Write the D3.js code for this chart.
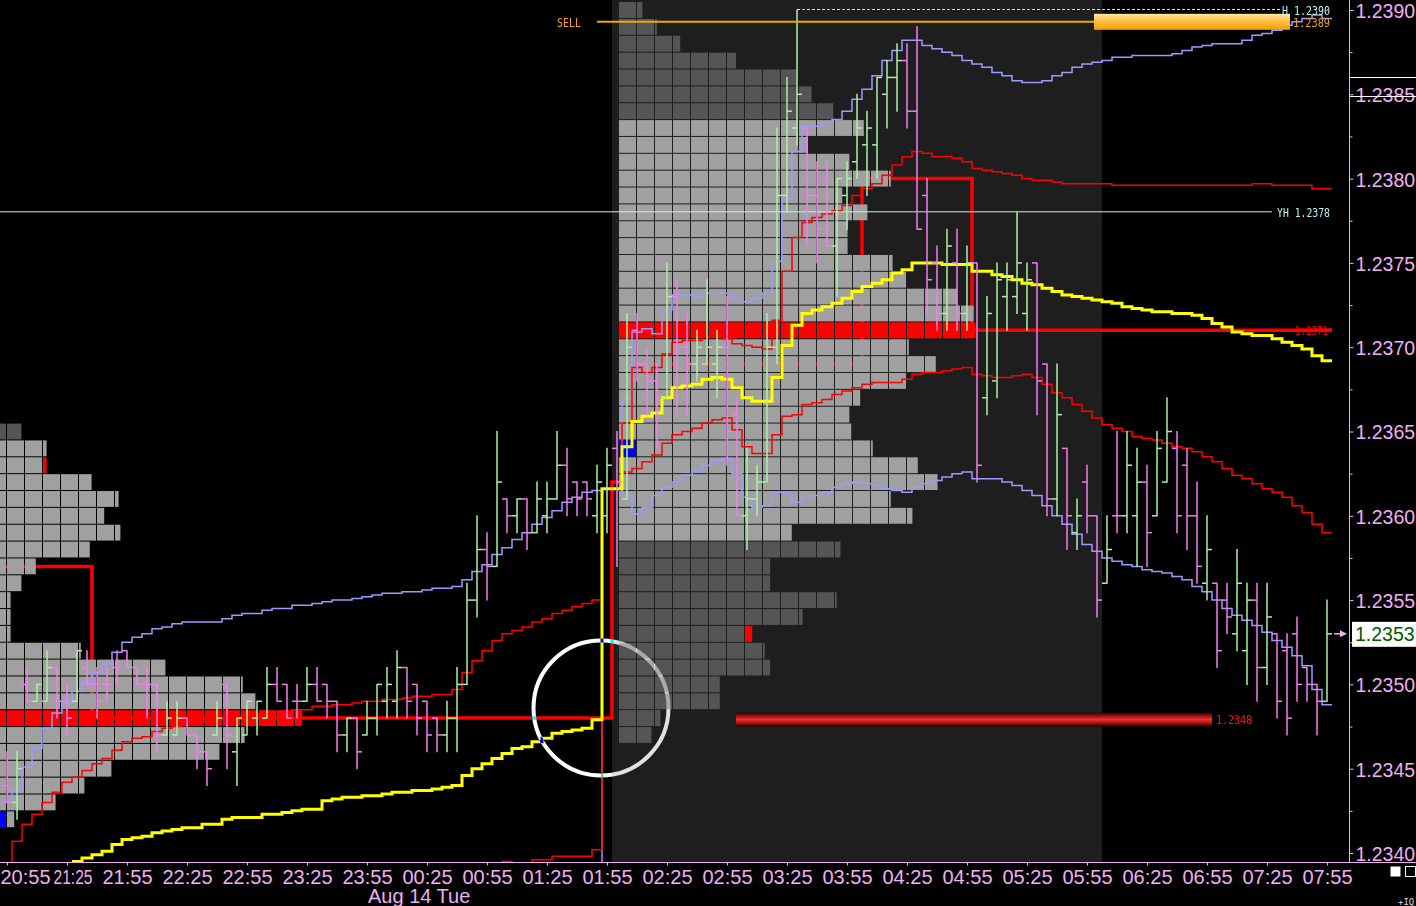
<!DOCTYPE html>
<html><head><meta charset="utf-8">
<script src="https://cdn.jsdelivr.net/npm/d3@7"></script>
<style>html,body{margin:0;padding:0;background:#000}svg{display:block}</style>
</head><body>
<svg id="c" width="1416" height="906"></svg>
<script>
// ---------------- DATA ----------------
const firstBar = "2012-08-13T20:55";
const barOpen = [
1.2344,1.2343,1.2350,1.2349,1.2349,1.2351,1.2349,1.2349,1.2351,1.2350,
1.2350,1.2351,1.2352,1.2351,1.2350,1.2350,1.2347,1.2347,1.2348,1.2347,
1.2346,1.2347,1.2350,1.2346,1.2347,1.2348,1.2348,1.2350,1.2350,1.2349,
1.2349,1.2350,1.2350,1.2349,1.2347,1.2348,1.2347,1.2348,1.2349,1.2349,
1.2351,1.2350,1.2349,1.2348,1.2347,1.2348,1.2350,1.2355,1.2358,1.2357,
1.2361,1.2360,1.2361,1.2359,1.2360,1.2361,1.2363,1.2362,1.2362,1.2360,
1.2360,1.2364,1.2361,1.2371,1.2369,1.2368,1.2367,1.2373,1.2370,1.2369,
1.2369,1.2369,1.2370,1.2366,1.2360,1.2361,1.2362,1.2370,1.2379,1.2383,
1.2383,1.2379,1.2380,1.2376,1.2379,1.2381,1.2382,1.2382,1.2385,1.2386,
1.2387,1.2384,1.2379,1.2375,1.2372,1.2375,1.2372,1.2375,1.2367,1.2368,
1.2373,1.2373,1.2372,1.2375,1.2369,1.2361,1.2364,1.2359,1.2362,1.2360,
1.2356,1.2360,1.2360,1.2360,1.2362,1.2360,1.2362,1.2364,1.2363,1.2360,
1.2356,1.2356,1.2355,1.2353,1.2352,1.2355,1.2351,1.2353,1.2352,1.2353,
1.2351,1.2350,1.2349];
const barHigh = [
1.2346,1.2346,1.2351,1.2350,1.2352,1.2351,1.2350,1.2352,1.2352,1.2351,
1.2351,1.2352,1.2352,1.2351,1.2351,1.2350,1.2349,1.2349,1.2348,1.2347,
1.2346,1.2349,1.2350,1.2348,1.2349,1.2349,1.2351,1.2351,1.2350,1.2350,
1.2351,1.2351,1.2350,1.2349,1.2348,1.2348,1.2349,1.2350,1.2351,1.2352,
1.2351,1.2350,1.2349,1.2348,1.2349,1.2351,1.2356,1.2360,1.2359,1.2365,
1.2361,1.2361,1.2361,1.2362,1.2362,1.2365,1.2364,1.2362,1.2362,1.2363,
1.2364,1.2365,1.2372,1.2372,1.2370,1.2369,1.2375,1.2374,1.2372,1.2371,
1.2374,1.2371,1.2373,1.2367,1.2364,1.2363,1.2372,1.2383,1.2386,1.2390,
1.2383,1.2381,1.2381,1.2380,1.2381,1.2385,1.2384,1.2386,1.2387,1.2388,
1.2388,1.2389,1.2380,1.2376,1.2377,1.2377,1.2376,1.2375,1.2373,1.2375,
1.2375,1.2378,1.2375,1.2375,1.2369,1.2369,1.2364,1.2361,1.2363,1.2360,
1.2360,1.2365,1.2365,1.2364,1.2363,1.2365,1.2367,1.2365,1.2364,1.2362,
1.2360,1.2356,1.2356,1.2358,1.2356,1.2356,1.2356,1.2353,1.2353,1.2354,
1.2351,1.2350,1.2355];
const barLow = [
1.2343,1.2342,1.2349,1.2349,1.2349,1.2348,1.2347,1.2349,1.2350,1.2348,
1.2349,1.2350,1.2351,1.2350,1.2348,1.2346,1.2347,1.2347,1.2347,1.2345,
1.2344,1.2347,1.2345,1.2344,1.2347,1.2347,1.2348,1.2349,1.2348,1.2348,
1.2349,1.2349,1.2348,1.2346,1.2346,1.2345,1.2347,1.2347,1.2348,1.2348,
1.2348,1.2347,1.2346,1.2346,1.2346,1.2346,1.2350,1.2354,1.2355,1.2357,
1.2359,1.2359,1.2358,1.2359,1.2359,1.2361,1.2360,1.2360,1.2360,1.2359,
1.2359,1.2357,1.2361,1.2368,1.2366,1.2364,1.2367,1.2366,1.2366,1.2368,
1.2369,1.2367,1.2363,1.2360,1.2358,1.2360,1.2362,1.2369,1.2378,1.2382,
1.2376,1.2375,1.2376,1.2373,1.2377,1.2380,1.2379,1.2380,1.2383,1.2384,
1.2383,1.2377,1.2372,1.2371,1.2371,1.2371,1.2371,1.2362,1.2366,1.2367,
1.2371,1.2372,1.2371,1.2366,1.2360,1.2360,1.2358,1.2358,1.2359,1.2354,
1.2356,1.2359,1.2359,1.2357,1.2357,1.2360,1.2362,1.2359,1.2358,1.2356,
1.2355,1.2351,1.2353,1.2352,1.2350,1.2349,1.2350,1.2348,1.2347,1.2349,
1.2349,1.2347,1.2349];
const barClose = [
1.2343,1.2345,1.2349,1.2350,1.2351,1.2349,1.2348,1.2352,1.2350,1.2349,
1.2350,1.2351,1.2351,1.2350,1.2350,1.2347,1.2348,1.2348,1.2347,1.2346,
1.2345,1.2348,1.2347,1.2348,1.2349,1.2349,1.2350,1.2349,1.2348,1.2349,
1.2350,1.2349,1.2349,1.2347,1.2348,1.2346,1.2348,1.2350,1.2350,1.2351,
1.2349,1.2348,1.2347,1.2347,1.2348,1.2350,1.2355,1.2358,1.2357,1.2362,
1.2360,1.2361,1.2359,1.2361,1.2361,1.2363,1.2361,1.2361,1.2361,1.2362,
1.2363,1.2362,1.2370,1.2369,1.2368,1.2367,1.2373,1.2370,1.2369,1.2370,
1.2370,1.2370,1.2365,1.2360,1.2361,1.2362,1.2370,1.2379,1.2384,1.2385,
1.2379,1.2377,1.2376,1.2380,1.2380,1.2383,1.2383,1.2386,1.2386,1.2387,
1.2384,1.2377,1.2374,1.2372,1.2376,1.2372,1.2375,1.2363,1.2372,1.2374,
1.2374,1.2375,1.2374,1.2368,1.2361,1.2366,1.2360,1.2360,1.2360,1.2355,
1.2358,1.2360,1.2363,1.2362,1.2359,1.2364,1.2365,1.2360,1.2360,1.2357,
1.2358,1.2352,1.2354,1.2356,1.2355,1.2351,1.2354,1.2349,1.2348,1.2350,
1.2350,1.2349,1.2353];

// session VWAP and its bands, one value per bar (null = not drawn)
const N7 = [null,null,null,null,null,null,null];
const vwapLine = [...N7,1.23395,1.23397,1.23399,
1.23401,1.23405,1.23408,1.23409,1.23410,1.23412,1.23413,1.23414,1.23415,1.23415,
1.23417,1.23417,1.23420,1.23421,1.23421,1.23421,1.23423,1.23423,1.23424,1.23425,
1.23426,1.23426,1.23431,1.23432,1.23433,1.23433,1.23434,1.23434,1.23435,1.23436,
1.23436,1.23437,1.23437,1.23438,1.23439,1.23440,1.23446,1.23450,1.23453,1.23456,
1.23459,1.23462,1.23463,1.23466,1.23468,1.23471,1.23472,1.23473,1.23474,1.23479,
1.23616,1.23616,1.23641,1.23656,1.23659,1.23661,1.23670,1.23676,1.23677,1.23678,
1.23681,1.23682,1.23681,1.23676,1.23670,1.23668,1.23668,1.23682,1.23701,1.23713,
1.23720,1.23722,1.23724,1.23726,1.23729,1.23733,1.23736,1.23738,1.23740,1.23744,
1.23746,1.23750,1.23750,1.23750,1.23749,1.23749,1.23749,1.23745,1.23745,1.23743,
1.23742,1.23740,1.23738,1.23737,1.23735,1.23733,1.23731,1.23730,1.23729,1.23728,
1.23727,1.23726,1.23724,1.23723,1.23722,1.23721,1.23721,1.23720,1.23720,1.23719,
1.23717,1.23714,1.23712,1.23709,1.23708,1.23707,1.23707,1.23705,1.23703,1.23701,
1.23699,1.23695,1.23692];
const upper1Line = [
1.23390,1.23407,1.23417,1.23423,1.23430,1.23436,1.23442,1.23445,1.23449,1.23453,
1.23456,1.23461,1.23466,1.23468,1.23469,1.23472,1.23474,1.23475,1.23477,1.23477,
1.23478,1.23479,1.23480,1.23481,1.23481,1.23482,1.23483,1.23484,1.23484,1.23485,
1.23485,1.23487,1.23487,1.23488,1.23488,1.23489,1.23490,1.23490,1.23491,1.23491,
1.23492,1.23493,1.23493,1.23494,1.23494,1.23497,1.23507,1.23514,1.23520,1.23526,
1.23530,1.23532,1.23534,1.23537,1.23539,1.23542,1.23544,1.23546,1.23548,1.23550,
1.23616,1.23616,1.23655,1.23688,1.23685,1.23688,1.23696,1.23703,1.23704,1.23704,
1.23706,1.23706,1.23705,1.23702,1.23701,1.23700,1.23699,1.23716,1.23745,1.23765,
1.23774,1.23777,1.23779,1.23781,1.23784,1.23790,1.23794,1.23797,1.23802,1.23808,
1.23813,1.23816,1.23815,1.23813,1.23813,1.23812,1.23810,1.23806,1.23805,1.23804,
1.23803,1.23802,1.23800,1.23799,1.23799,1.23798,1.23797,1.23797,1.23797,1.23797,
1.23797,1.23796,1.23796,1.23796,1.23796,1.23796,1.23796,1.23796,1.23796,1.23796,
1.23796,1.23796,1.23796,1.23796,1.23796,1.23797,1.23797,1.23796,1.23796,1.23796,
1.23796,1.23794,1.23794];
const upper2Line = [
1.23430,1.23437,1.23451,1.23462,1.23474,1.23483,1.23489,1.23496,1.23501,1.23507,
1.23512,1.23519,1.23525,1.23528,1.23530,1.23533,1.23534,1.23536,1.23537,1.23537,
1.23537,1.23537,1.23539,1.23541,1.23542,1.23542,1.23544,1.23545,1.23545,1.23547,
1.23547,1.23548,1.23549,1.23550,1.23550,1.23551,1.23552,1.23553,1.23554,1.23554,
1.23555,1.23555,1.23556,1.23557,1.23557,1.23558,1.23562,1.23567,1.23571,1.23577,
1.23581,1.23586,1.23590,1.23595,1.23599,1.23603,1.23608,1.23611,1.23614,1.23615,
1.23616,1.23616,1.23669,1.23709,1.23711,1.23708,1.23722,1.23731,1.23731,1.23730,
1.23732,1.23732,1.23732,1.23729,1.23727,1.23729,1.23732,1.23751,1.23788,1.23816,
1.23831,1.23831,1.23833,1.23835,1.23840,1.23847,1.23853,1.23861,1.23870,1.23876,
1.23882,1.23882,1.23879,1.23877,1.23875,1.23873,1.23870,1.23868,1.23866,1.23863,
1.23861,1.23858,1.23857,1.23857,1.23858,1.23861,1.23863,1.23866,1.23868,1.23869,
1.23870,1.23872,1.23872,1.23873,1.23873,1.23873,1.23873,1.23874,1.23876,1.23878,
1.23879,1.23880,1.23880,1.23880,1.23882,1.23885,1.23886,1.23888,1.23891,1.23893,
1.23895,1.23897,1.23895];
const lower1Line = [...Array(48).fill(null),1.23385,1.23390,
1.23395,1.23392,1.23393,1.23396,1.23396,1.23398,1.23398,1.23398,1.23398,1.23402,
1.23616,1.23616,1.23626,1.23628,1.23632,1.23636,1.23643,1.23648,1.23650,1.23652,
1.23655,1.23657,1.23658,1.23651,1.23641,1.23637,1.23637,1.23648,1.23659,1.23660,
1.23666,1.23667,1.23669,1.23672,1.23674,1.23676,1.23678,1.23679,1.23679,1.23679,
1.23681,1.23684,1.23685,1.23685,1.23686,1.23687,1.23688,1.23684,1.23683,1.23682,
1.23682,1.23683,1.23684,1.23682,1.23678,1.23673,1.23670,1.23666,1.23662,1.23658,
1.23654,1.23652,1.23650,1.23647,1.23646,1.23645,1.23643,1.23641,1.23640,1.23638,
1.23635,1.23632,1.23628,1.23624,1.23622,1.23619,1.23616,1.23614,1.23611,1.23606,
1.23602,1.23595,1.23590];
const lower2Line = [...Array(58).fill(null),1.23300,1.23300,
1.23616,1.23616,1.23612,1.23601,1.23605,1.23612,1.23617,1.23620,1.23624,1.23627,
1.23630,1.23633,1.23634,1.23625,1.23611,1.23605,1.23606,1.23614,1.23614,1.23608,
1.23611,1.23612,1.23614,1.23617,1.23619,1.23620,1.23619,1.23618,1.23616,1.23615,
1.23614,1.23617,1.23619,1.23621,1.23623,1.23625,1.23626,1.23622,1.23622,1.23622,
1.23620,1.23618,1.23615,1.23612,1.23606,1.23600,1.23595,1.23589,1.23583,1.23579,
1.23575,1.23573,1.23571,1.23570,1.23568,1.23567,1.23566,1.23564,1.23562,1.23558,
1.23555,1.23550,1.23545,1.23541,1.23538,1.23535,1.23531,1.23526,1.23522,1.23517,
1.23511,1.23497,1.23488];

// developing point of control (step changes)
const devPocTimes  = ["20:55","21:40","02:00","02:05","02:10","04:05","05:00"];
const devPocValues = [1.2357,1.2348,1.2362,1.2366,1.2369,1.2380,1.2371];

// market profiles (price rows and TPO counts)
const prevProfilePrices = d3.range(24).map(k => +(1.2365 - k*0.0001).toFixed(4));
const prevProfileCounts = [1.8,3.2,3.2,5.7,7.2,6.4,7.3,5.6,2.6,1.8,1.2,1.2,1.2,5.1,9.8,14.1,14.8,17.4,14.2,12.8,6.8,5.3,3.7,1.4];
const prevProfileInfo = {poc:1.2348, vaHigh:1.2364, vaLow:1.2342, open:1.2342, close:1.2363};
const currProfilePrices = d3.range(44).map(k => +(1.2390 - k*0.0001).toFixed(4));
const currProfileCounts = [1.3,2.1,3.4,6.5,9.9,10.7,11.9,13.6,10.5,12.8,15.1,12.4,13.8,12.7,12.7,15.2,16.0,18.8,19.7,19.8,16.1,17.6,16.0,13.4,12.8,12.9,14.1,16.6,17.7,15.1,16.3,9.6,12.3,8.4,8.4,12.1,10.2,7.4,8.1,8.4,5.6,5.6,2.3,1.8];
const currProfileInfo = {poc:1.2371, vaHigh:1.2383, vaLow:1.2359, open:1.2364, close:1.2353};

const sessionStart = "02:00", sessionEnd = "06:00";
const levels = {sell:1.23893, sellLabel:"1.2389", high:1.2390, highLabel:"H 1.2390",
  yHigh:1.2378, yHighLabel:"YH 1.2378", pocLabel:"1.2371", nakedPoc:1.2348, nakedPocLabel:"1.2348",
  last:1.2353};
const xTickLabels = ["20:55","21:25","21:55","22:25","22:55","23:25","23:55","00:25","00:55","01:25","01:55",
  "02:25","02:55","03:25","03:55","04:25","04:55","05:25","05:55","06:25","06:55","07:25","07:55"];
const yTickValues = [1.2340,1.2345,1.2350,1.2355,1.2360,1.2365,1.2370,1.2375,1.2380,1.2385,1.2390];
const dateLabel = "Aug 14 Tue";

// ---------------- SCALES ----------------
const t0 = new Date(firstBar);
const nBars = barOpen.length;
const barTime = i => d3.timeMinute.offset(t0, 5*i);
function hm(s){
  const [h,m] = s.split(":").map(Number);
  const d = new Date(t0); d.setHours(h,m,0,0);
  if (d < t0) d.setDate(d.getDate()+1);
  return d;
}
const x = d3.scaleTime().domain([t0, barTime(nBars-1)]).range([7,1327]);
const y = d3.scaleLinear().domain([1.2340,1.2390]).range([853,10]);
const PIP = 0.0001, HB = 5, CELL = 18;
const PLOT_R = 1349, PLOT_B = 862;
const pink = "#f2aef2", green = "#a8f2a0", mag = "#f47cf0";
const AXFONT = "'Liberation Sans',Arial";

const svg = d3.select("#c");
svg.append("rect").attr("width",1416).attr("height",906).attr("fill","#000");
const defs = svg.append("defs");
defs.append("clipPath").attr("id","plot").append("rect").attr("width",PLOT_R).attr("height",PLOT_B);
const g = svg.append("g").attr("clip-path","url(#plot)");

// session background
g.append("rect").attr("x", x(hm(sessionStart))-HB).attr("y",0)
  .attr("width", x(hm(sessionEnd))-x(hm(sessionStart))+2*HB).attr("height",PLOT_B).attr("fill","#1e1e1e");

// developing POC (behind profile)
{
  const pts=[];
  for(let i=0;i<nBars;i++){
    const t=barTime(i);
    let v=null;
    devPocTimes.forEach((s,k)=>{ if (hm(s)<=t) v=devPocValues[k]; });
    pts.push([x(t)-HB,y(v)],[x(t)+HB,y(v)]);
  }
  g.append("path").attr("d",d3.line()(pts)).attr("fill","none").attr("stroke","#ff0000").attr("stroke-width",3.5);
}

// profiles
function drawProfile(prices, counts, x0, info){
  prices.forEach((p,j)=>{
    const c=counts[j];
    const yt=y(p+PIP/2)+0.5, h=y(p-PIP/2)-y(p+PIP/2)-1;
    const n=Math.ceil(c-1e-9);
    for(let k=0;k<n;k++){
      const frac=Math.min(1,c-k);
      const w = frac>=1 ? CELL-1 : frac*CELL;
      let col = Math.abs(p-info.poc)<1e-7 ? "#ff0000" :
        (p<=info.vaHigh+1e-7 && p>=info.vaLow-1e-7) ? "#a0a0a0" : "#555555";
      if (Math.abs(p-info.open)<1e-7 && k===0) col="#0000ff";
      if (Math.abs(p-info.close)<1e-7 && k===n-1) col="#ff0000";
      g.append("rect").attr("x",x0+k*CELL).attr("y",yt).attr("width",w).attr("height",h).attr("fill",col);
    }
  });
}
drawProfile(prevProfilePrices, prevProfileCounts, x(t0)-CELL, prevProfileInfo);
drawProfile(currProfilePrices, currProfileCounts, x(hm(sessionStart))+2, currProfileInfo);

// VWAP & bands as step lines
function stepLine(vals, color, width){
  const segs=[]; let cur=[];
  vals.forEach((v,i)=>{
    if (v==null){ if(cur.length) segs.push(cur); cur=[]; return; }
    const xc=x(barTime(i)); cur.push([xc-HB,y(v)],[xc+HB,y(v)]);
  });
  if(cur.length) segs.push(cur);
  segs.forEach(s=>g.append("path").attr("d",d3.line()(s)).attr("fill","none")
    .attr("stroke",color).attr("stroke-width",width));
}
stepLine(lower2Line,"#9a9aff",1.5);
stepLine(upper2Line,"#9a9aff",1.5);
stepLine(lower1Line,"#ff0000",1.5);
stepLine(upper1Line,"#ff0000",1.5);
stepLine(vwapLine,"#ffff00",3);

// yesterday high line
g.append("line").attr("x1",0).attr("x2",1272).attr("y1",y(levels.yHigh)-0.5).attr("y2",y(levels.yHigh)-0.5)
  .attr("stroke","#c8f0f0").attr("stroke-width",1);

// OHLC bars
for(let i=0;i<nBars;i++){
  const xc=x(barTime(i));
  const col = barClose[i]>barOpen[i] ? green : mag;
  const bg=g.append("g").attr("stroke",col).attr("stroke-width",1.5);
  bg.append("line").attr("x1",xc).attr("x2",xc).attr("y1",y(barHigh[i])-0.5).attr("y2",y(barLow[i])+0.5);
  bg.append("line").attr("x1",xc-5).attr("x2",xc).attr("y1",y(barOpen[i])).attr("y2",y(barOpen[i]));
  bg.append("line").attr("x1",xc).attr("x2",xc+5).attr("y1",y(barClose[i])).attr("y2",y(barClose[i]));
}

// naked POC tube
{
  const gr=defs.append("linearGradient").attr("id","tube").attr("x1",0).attr("x2",0).attr("y1",0).attr("y2",1);
  [[0,"#2a0000"],[0.5,"#ff2a2a"],[1,"#2a0000"]].forEach(s=>gr.append("stop").attr("offset",s[0]).attr("stop-color",s[1]));
  const yc=y(levels.nakedPoc)+1.5;
  g.append("rect").attr("x",736).attr("y",yc-7).attr("width",476).attr("height",14).attr("fill","url(#tube)");
}

// sell order line and box
{
  const ys=y(levels.sell);
  g.append("line").attr("x1",597).attr("x2",1290).attr("y1",ys).attr("y2",ys).attr("stroke","#f0a800").attr("stroke-width",2);
  const gr=defs.append("linearGradient").attr("id","sellbox").attr("x1",0).attr("x2",0).attr("y1",0).attr("y2",1);
  [[0,"#ffe8a8"],[0.45,"#ffc040"],[1,"#f0a000"]].forEach(s=>gr.append("stop").attr("offset",s[0]).attr("stop-color",s[1]));
  g.append("rect").attr("x",1094).attr("y",ys-8).attr("width",196).attr("height",16).attr("fill","url(#sellbox)");
  const yh=y(levels.high)-0.5;
  g.append("line").attr("x1",797).attr("x2",1280).attr("y1",yh).attr("y2",yh).attr("stroke","#b8f4f4")
    .attr("stroke-width",1).attr("stroke-dasharray","3,2");
}

function smallText(txt, xs, yc, w, col){
  g.append("text").attr("x",xs).attr("y",yc).attr("dy","0.36em").attr("fill",col)
    .attr("textLength",w).attr("lengthAdjust","spacingAndGlyphs")
    .style("font-family","'DejaVu Sans Mono', monospace").style("font-size","13px").text(txt);
}
smallText("SELL",557,y(levels.sell)+0.5,24,"#f0a800");
smallText(levels.sellLabel,1293,y(levels.sell)+1,37,"#f0a800");
smallText(levels.highLabel,1282,y(levels.high),48,"#b8f4f4");
smallText(levels.yHighLabel,1277,y(levels.yHigh)-0.5,53,"#b8f4f4");
smallText(levels.nakedPocLabel,1216,y(levels.nakedPoc)+1.5,36,"#ff1010");
smallText(levels.pocLabel,1295,y(currProfileInfo.poc),33,"#ff0000");
g.append("line").attr("x1",1300).attr("x2",1332).attr("y1",y(currProfileInfo.poc)).attr("y2",y(currProfileInfo.poc))
  .attr("stroke","#ff0000").attr("stroke-width",3.5);

// circle marker (difference blend)
g.append("circle").attr("cx",x(hm("01:52"))).attr("cy",y(1.23486)).attr("r",67.5)
  .attr("fill","none").attr("stroke","#fff").attr("stroke-width",4).style("mix-blend-mode","difference");

// ---------------- AXES ----------------
svg.append("line").attr("x1",0).attr("x2",1416).attr("y1",PLOT_B+0.5).attr("y2",PLOT_B+0.5).attr("stroke",pink);
svg.append("line").attr("x1",PLOT_R+0.5).attr("x2",PLOT_R+0.5).attr("y1",0).attr("y2",PLOT_B).attr("stroke",pink);

const ya=svg.append("g").attr("transform",`translate(${PLOT_R+0.5},0)`)
  .call(d3.axisRight(y).tickValues(yTickValues).tickSize(4).tickPadding(2).tickFormat(d3.format(".4f")));
ya.select(".domain").remove();
ya.selectAll("line").attr("stroke",pink);
ya.selectAll("text").attr("fill",pink).attr("dy","0.38em").style("font-family",AXFONT).style("font-size","19.5px");
const minor = yTickValues.slice(0,-1).map(v=>v+0.00025);
const ym=svg.append("g").attr("transform",`translate(${PLOT_R+0.5},0)`)
  .call(d3.axisRight(y).tickValues(minor).tickSize(3).tickFormat(""));
ym.select(".domain").remove(); ym.selectAll("line").attr("stroke",pink);

const xa=svg.append("g").attr("transform",`translate(0,${PLOT_B+0.5})`)
  .call(d3.axisBottom(x).tickValues(xTickLabels.map(hm)).tickSize(3).tickPadding(4).tickFormat(d3.timeFormat("%H:%M")));
xa.select(".domain").remove();
xa.selectAll("line").attr("stroke",pink);
xa.selectAll("text").attr("fill",pink).style("font-family",AXFONT).style("font-size","20px");
// first two labels sit tight against each other at the left edge, as in the source
xa.selectAll(".tick").filter((d,i)=>i===0).select("text").attr("text-anchor","start").attr("x",-7);
xa.selectAll(".tick").filter((d,i)=>i===1).select("text").attr("text-anchor","start").attr("x",-14)
  .attr("textLength",39).attr("lengthAdjust","spacingAndGlyphs");
svg.append("text").attr("x",368).attr("y",903).attr("fill",pink)
  .style("font-family",AXFONT).style("font-size","20px").text(dateLabel);

// top-right white lines
svg.append("line").attr("x1",1350).attr("x2",1416).attr("y1",77.5).attr("y2",77.5).attr("stroke","#fff");
svg.append("line").attr("x1",1350).attr("x2",1416).attr("y1",96.5).attr("y2",96.5).attr("stroke","#fff");

// last price marker
{
  const yl=y(levels.last);
  svg.append("rect").attr("x",1352).attr("y",yl-12).attr("width",64).attr("height",25).attr("fill","#fff");
  svg.append("text").attr("x",1355).attr("y",yl).attr("dy","0.38em").attr("fill","#005a00")
    .style("font-family",AXFONT).style("font-size","19.5px").text(d3.format(".4f")(levels.last));
  svg.append("line").attr("x1",1334).attr("x2",1341).attr("y1",yl).attr("y2",yl).attr("stroke",pink).attr("stroke-width",1.5);
  svg.append("path").attr("d",`M1340,${yl-3.5}L1347,${yl}L1340,${yl+3.5}Z`).attr("fill",pink);
}
// bottom-right widgets
svg.append("rect").attr("x",1390.5).attr("y",866.5).attr("width",10).attr("height",10).attr("fill","#fff");
svg.append("rect").attr("x",1405.5).attr("y",866.5).attr("width",10).attr("height",10).attr("fill","none").attr("stroke","#fff");
svg.append("text").attr("x",1398).attr("y",905).attr("fill","#ddd").style("font-family","'DejaVu Sans Mono'").style("font-size","9px").text("+IQ");
</script>
</body></html>
